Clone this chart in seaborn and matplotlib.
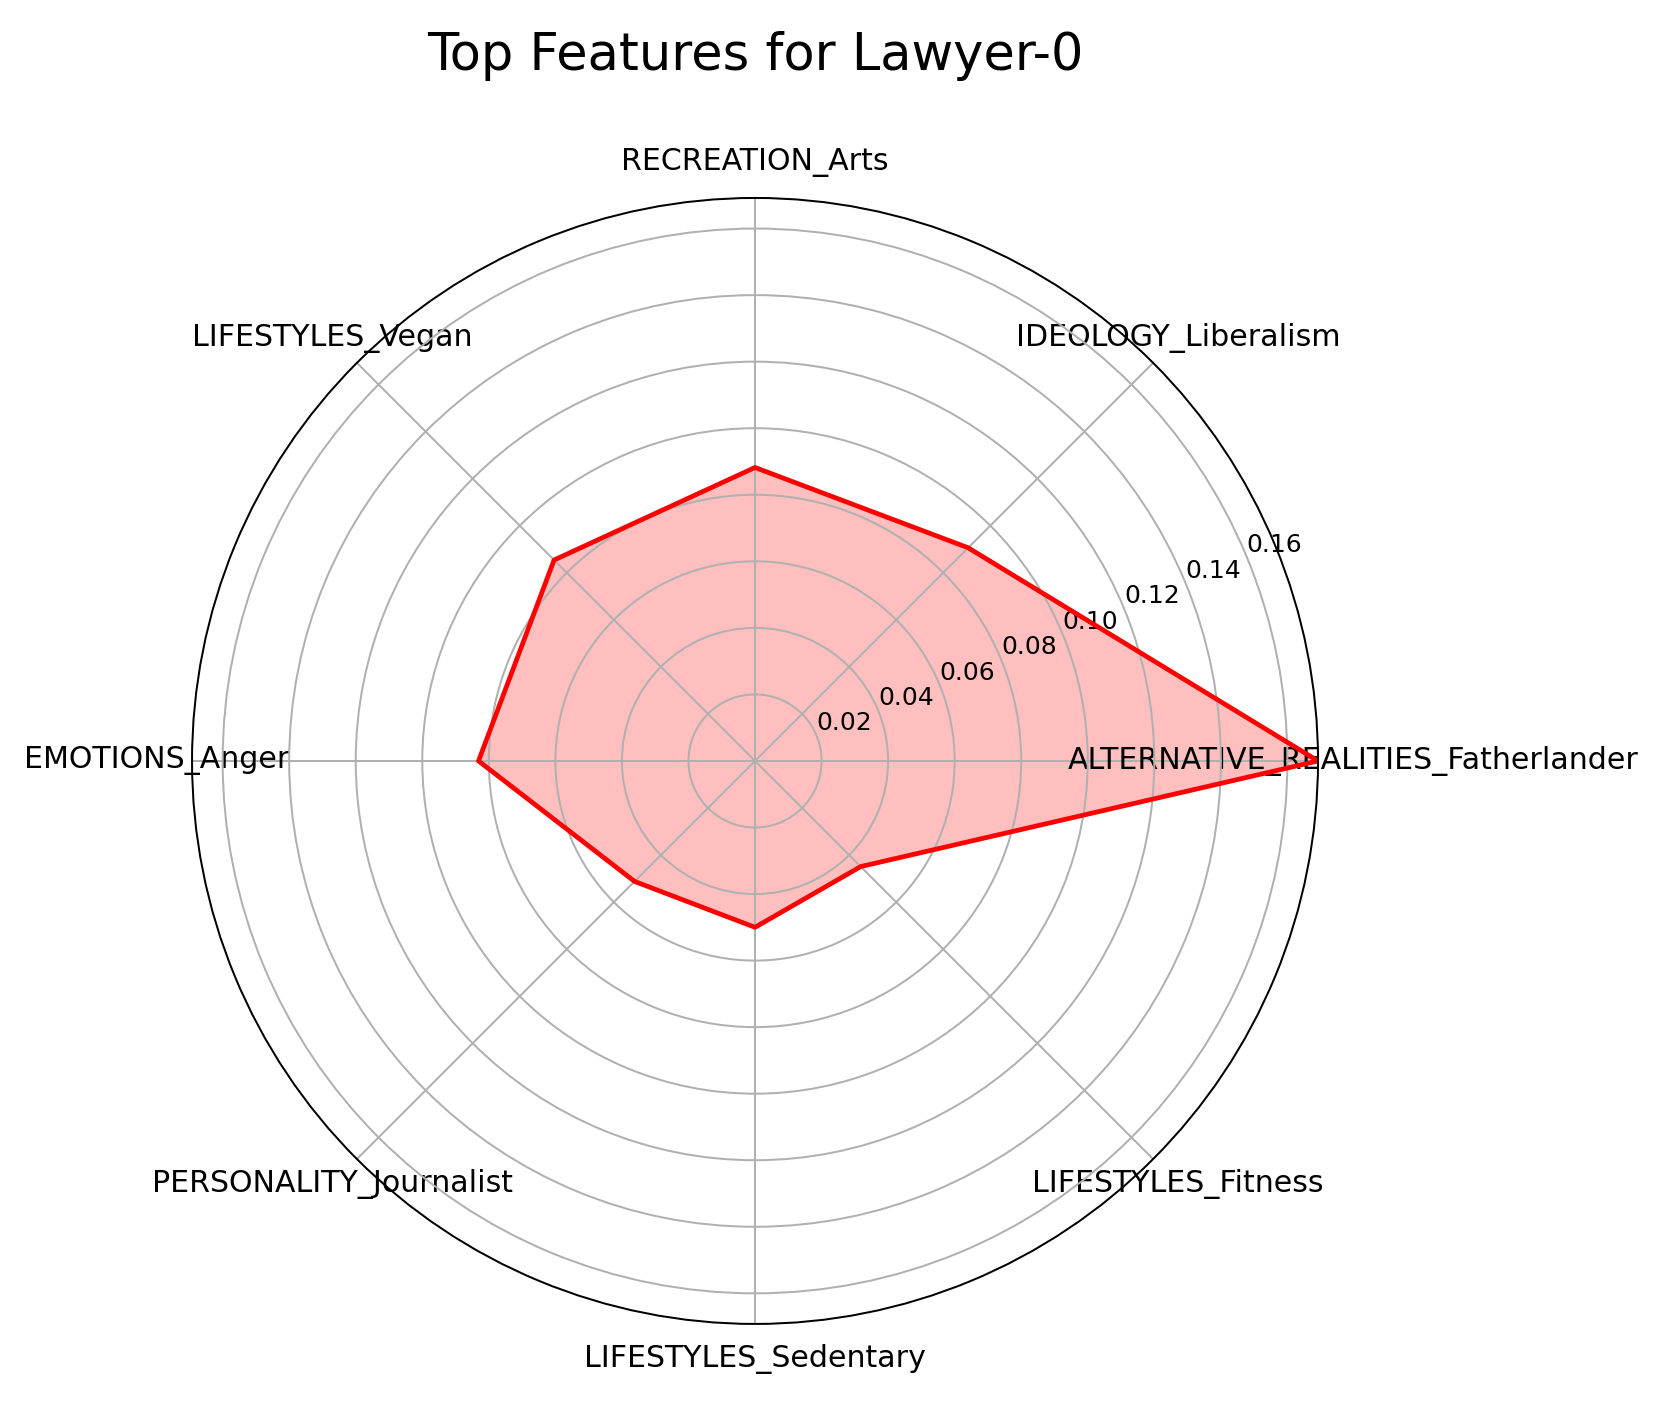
import numpy as np
import pandas as pd
import matplotlib
matplotlib.use("Agg")
import matplotlib.pyplot as plt
import seaborn as sns

# Feature importances for Lawyer-0
features = [
    "ALTERNATIVE_REALITIES_Fatherlander",
    "IDEOLOGY_Liberalism",
    "RECREATION_Arts",
    "LIFESTYLES_Vegan",
    "EMOTIONS_Anger",
    "PERSONALITY_Journalist",
    "LIFESTYLES_Sedentary",
    "LIFESTYLES_Fitness",
]
scores = [0.1692, 0.0906, 0.0882, 0.0854, 0.0831, 0.0512, 0.0500, 0.0449]

sns.set_style("white", rc={
    "text.color": "black",
    "xtick.color": "black",
    "ytick.color": "black",
    "axes.labelcolor": "black",
    "axes.edgecolor": "black",
    "axes.axisbelow": "line",
})
plt.rcParams["font.family"] = ["DejaVu Sans"]

n = len(features)
angles = np.linspace(0, 2 * np.pi, n, endpoint=False)

# close the polygon
df = pd.DataFrame({
    "angle": list(angles) + [angles[0] + 2 * np.pi],
    "score": scores + [scores[0]],
})

fig = plt.figure(figsize=(1668 / 180, 1405 / 180), dpi=180)
ax = fig.add_axes([0.1151, 0.0577, 0.6751, 0.8014], projection="polar")

ax.fill(df["angle"], df["score"], color="red", alpha=0.25, linewidth=0)
sns.lineplot(data=df, x="angle", y="score", sort=False, color="red",
             linewidth=1.9, ax=ax)

ax.set_xticks(angles)
ax.set_xticklabels(features, fontsize=12)
ax.set_yticks([0.02, 0.04, 0.06, 0.08, 0.10, 0.12, 0.14, 0.16])
ax.set_yticklabels(["0.02", "0.04", "0.06", "0.08", "0.10", "0.12", "0.14", "0.16"],
                   fontsize=10)
ax.set_ylim(0, max(scores))
ax.set_xlabel("")
ax.set_ylabel("")
ax.set_axisbelow("line")
ax.grid(True, color="#b0b0b0", linewidth=0.8)

fig.text(0.4526, 1 - 70 / 1405, "Top Features for Lawyer-0", fontsize=20.4,
         ha="center", va="baseline")

fig.savefig("out.png", dpi=180)
